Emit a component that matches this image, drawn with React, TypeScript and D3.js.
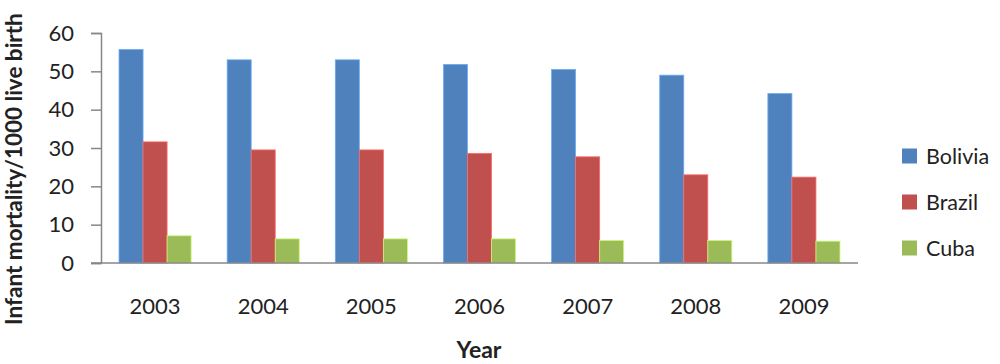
import React, { useEffect, useRef } from 'react';
import * as d3 from 'd3';

// chart data
const years = ['2003', '2004', '2005', '2006', '2007', '2008', '2009'];
const countries = ['Bolivia', 'Brazil', 'Cuba'];
const bolivia = [55.7, 53.0, 53.0, 51.8, 50.5, 49.0, 44.2];
const brazil = [31.6, 29.5, 29.5, 28.6, 27.7, 23.0, 22.4];
const cuba = [7.1, 6.3, 6.3, 6.3, 5.9, 5.9, 5.7];
const colors = ['#4F81BD', '#C0504D', '#9BBB59'];
const yTicks = [0, 10, 20, 30, 40, 50, 60];

const App = () => {
  const width = 1000;
  const height = 364;
  const ref = useRef<SVGSVGElement>(null);

  useEffect(() => {
    const svg = d3.select(ref.current);
    svg.selectAll('*').remove();

    const font = 'Lato, "Open Sans", sans-serif';
    const left = 101;
    const right = 858;
    const top = 33;
    const bottom = 263;

    const x = d3.scaleBand().domain(years).range([left, right]).paddingInner(1 / 3).paddingOuter(1 / 6);
    const x1 = d3.scaleBand().domain(countries).range([0, x.bandwidth()]);
    const y = d3.scaleLinear().domain([0, 60]).range([bottom, top]);

    const series = [bolivia, brazil, cuba];

    // bars
    countries.forEach((c, i) => {
      svg
        .append('g')
        .selectAll('rect')
        .data(series[i])
        .enter()
        .append('rect')
        .attr('x', (_, j) => (x(years[j]) as number) + (x1(c) as number))
        .attr('y', (d) => y(d))
        .attr('width', x1.bandwidth())
        .attr('height', (d) => bottom - y(d))
        .attr('fill', colors[i])
        .attr('stroke', d3.color(colors[i])!.brighter(0.8).toString())
        .attr('stroke-width', 0.8);
    });

    // y axis
    const yAxis = svg
      .append('g')
      .attr('transform', `translate(${left},0)`)
      .call(d3.axisLeft(y).tickValues(yTicks).tickSize(10).tickPadding(17));
    yAxis.select('.domain').attr('stroke', '#878787').attr('stroke-width', 1.5);
    yAxis.selectAll('.tick line').attr('stroke', '#878787').attr('stroke-width', 1.5);
    yAxis
      .selectAll('.tick text')
      .attr('font-family', font)
      .attr('font-size', 22)
      .attr('fill', '#222');

    // x axis
    const xAxis = svg
      .append('g')
      .attr('transform', `translate(0,${bottom})`)
      .call(d3.axisBottom(x).tickSize(0).tickPadding(35));
    xAxis.select('.domain').attr('stroke', '#878787').attr('stroke-width', 1.5).attr('d', `M${left - 10},0H${right}`);
    xAxis
      .selectAll('.tick text')
      .attr('font-family', font)
      .attr('font-size', 22)
      .attr('fill', '#222');

    // axis titles
    svg
      .append('text')
      .attr('x', 479)
      .attr('y', 358)
      .attr('text-anchor', 'middle')
      .attr('font-family', font)
      .attr('font-weight', 'bold')
      .attr('font-size', 23)
      .attr('fill', '#222')
      .text('Year');

    svg
      .append('text')
      .attr('transform', 'translate(22,325) rotate(-90)')
      .attr('text-anchor', 'start')
      .attr('font-family', font)
      .attr('font-weight', 'bold')
      .attr('font-size', 22.5)
      .attr('fill', '#222')
      .text('Infant mortality/1000 live birth');

    // legend
    const legend = svg
      .selectAll('.legend')
      .data(countries)
      .enter()
      .append('g')
      .attr('class', 'legend')
      .attr('transform', (_, i) => `translate(902,${156 + i * 46})`);
    legend
      .append('rect')
      .attr('x', 0)
      .attr('y', -7.5)
      .attr('width', 15)
      .attr('height', 15)
      .attr('fill', (_, i) => colors[i]);
    legend
      .append('text')
      .attr('x', 24)
      .attr('dy', '0.35em')
      .attr('font-family', font)
      .attr('font-size', 21.5)
      .attr('fill', '#222')
      .text((d) => d);
  }, []);

  return (
    <svg
      ref={ref}
      width={width}
      height={height}
      style={{ position: 'absolute', left: 0, top: 0, background: '#fff' }}
    />
  );
};

export default App;
